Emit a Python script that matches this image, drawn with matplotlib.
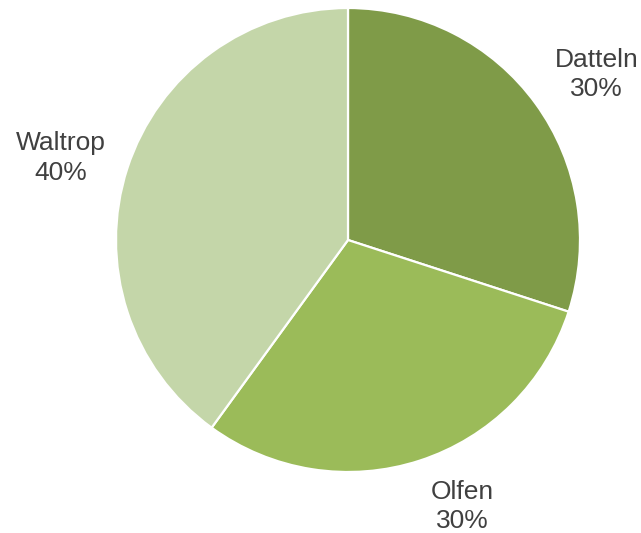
import numpy as np
import matplotlib.pyplot as plt

plt.rcParams['font.family'] = ['Liberation Sans', 'DejaVu Sans']

orte = ['Datteln', 'Olfen', 'Waltrop']
anteile = [30, 30, 40]
farben = ['#7f9b48', '#9bbb59', '#c4d6a9']

# Versatz der Beschriftung vom Segmentrand (Pixel)
versatz = [(61, 29), (43, -46), (-67, 10)]

fig = plt.figure(figsize=(6.41, 5.33), dpi=100)
ax = fig.add_axes([116 / 641, 61 / 533, 464 / 641, 464 / 533])

wedges, _ = ax.pie(anteile, colors=farben, startangle=90, counterclock=False,
                   radius=1.0, wedgeprops=dict(edgecolor='white', linewidth=1.6))

gesamt = sum(anteile)
for w, name, wert, off in zip(wedges, orte, anteile, versatz):
    mitte = np.deg2rad((w.theta1 + w.theta2) / 2)
    ax.annotate(f'{name}\n{wert / gesamt:.0%}',
                xy=(np.cos(mitte), np.sin(mitte)), xytext=off,
                textcoords='offset pixels', ha='center', va='center',
                fontsize=19, color='#404040', linespacing=1.3)

ax.set_xlim(-1, 1)
ax.set_ylim(-1, 1)
ax.set_aspect('equal')
ax.axis('off')

fig.savefig('out.png', dpi=100)
